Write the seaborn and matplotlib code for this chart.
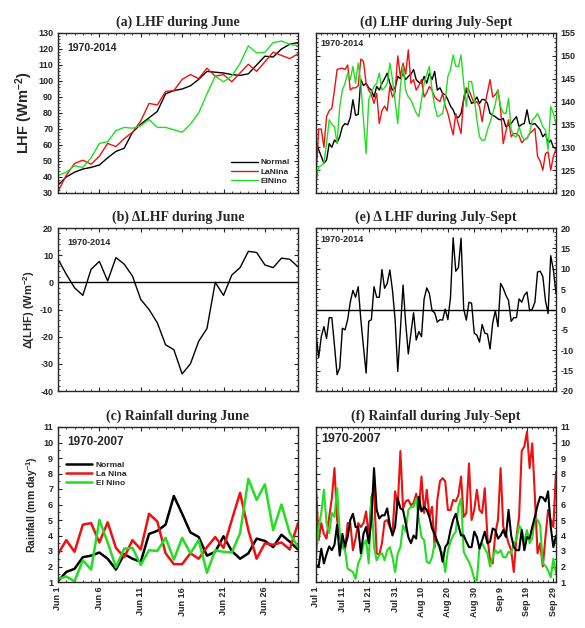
import numpy as np
import pandas as pd
import matplotlib
matplotlib.use("Agg")
import matplotlib.pyplot as plt
from matplotlib.ticker import MultipleLocator
import seaborn as sns

# ---------------- data ----------------
june_days = list(range(1, 31))
june_tick_pos = [1, 6, 11, 16, 21, 26]
june_tick_labels = ["Jun 1", "Jun 6", "Jun 11", "Jun 16", "Jun 21", "Jun 26"]

js_days = list(range(0, 92))
js_tick_pos = [0, 10, 20, 30, 40, 50, 60, 70, 80, 90]
js_tick_labels = ["Jul 1", "Jul 11", "Jul 21", "Jul 31", "Aug 10", "Aug 20",
                  "Aug 30", "Sep 9", "Sep 19", "Sep 29"]

# (a) LHF during June
lhf_june_normal = [35, 40, 43, 45, 46, 47.5, 52, 56, 58, 68, 73, 77, 81, 92, 94,
                   95, 97, 101, 106, 105.5, 105, 104, 103.5, 104.5, 110, 115.5,
                   115, 120, 123, 124]
lhf_june_lanina = [31, 41, 48.5, 50.5, 48, 53, 61, 59, 64, 68, 75, 86, 85, 93.5,
                   94, 101, 104, 101.5, 108, 103, 104, 99.5, 105, 110.5, 106, 112,
                   118, 116, 114, 117]
lhf_june_elnino = [41, 43, 47, 46, 52, 61, 62, 69, 71, 70.5, 72, 76, 71, 71, 69.5,
                   68, 73, 80, 92, 103, 99.5, 103, 111, 122, 117.5, 118, 124, 125,
                   123, 122]

# (b) Delta LHF during June
dlhf_june = [8.5, 3, -2, -4.8, 4.8, 7.7, 0.5, 9.1, 6.7, 2.3, -6.3, -10, -14.9, -23,
             -24.8, -33.7, -30, -21.7, -17, 0, -4.8, 2.7, 5.4, 11.4, 11, 6.4, 5.4,
             8.9, 8.5, 5.7]

# (c) Rainfall during June
rain_june_normal = [1.05, 1.65, 1.85, 2.6, 2.7, 2.9, 2.5, 1.8, 2.8, 2.5, 2.3, 4.1,
                    4.3, 4.7, 6.55, 5.4, 4.2, 3.9, 2.7, 2.95, 3.95, 3.0, 2.5, 2.85,
                    3.8, 3.65, 3.25, 4.05, 3.6, 3.1]
rain_june_lanina = [2.8, 3.7, 2.95, 4.7, 4.8, 3.55, 4.85, 3.2, 2.6, 3.7, 3.1, 5.4,
                    4.9, 2.85, 2.15, 2.15, 2.85, 2.5, 3.25, 3.9, 3.2, 5.0, 6.75,
                    4.35, 2.5, 3.5, 3.4, 3.55, 3.1, 4.8]
rain_june_elnino = [1.2, 1.35, 1.05, 2.4, 1.8, 5.0, 3.55, 1.95, 3.15, 3.2, 2.1,
                    3.05, 3.0, 3.85, 2.45, 3.85, 2.85, 3.7, 1.6, 3.05, 2.95, 2.9,
                    4.15, 7.65, 6.3, 7.3, 4.35, 6.0, 4.15, 3.25]

# (d) LHF during July-Sept
lhf_js_normal = [131.6, 129.5, 128.0, 126.5, 127.2, 130.8, 130.0, 131.6, 131.0, 132.3,
                 134.5, 135.2, 134.9, 136.5, 140.4, 137.0, 137.2, 144.8, 143.5, 144.0,
                 143.0, 142.5, 141.0, 143.3, 142.5, 144.0, 145.0, 146.2, 144.0, 142.5,
                 143.0, 145.5, 145.0, 146.2, 144.8, 145.5, 146.0, 147.0, 144.8, 144.2,
                 144.0, 145.5, 144.0, 146.2, 144.8, 146.6, 142.5, 143.0, 141.8, 141.5,
                 140.4, 139.0, 138.2, 136.7, 136.5, 137.4, 140.4, 142.5, 141.0, 139.6,
                 140.0, 141.0, 139.6, 140.5, 140.4, 139.6, 137.4, 137.0, 136.7, 136.2,
                 136.0, 136.3, 134.5, 134.8, 135.2, 136.0, 136.7, 134.5, 135.0, 135.2,
                 138.2, 135.2, 135.0, 135.2, 134.5, 133.8, 132.3, 133.0, 130.8, 131.6,
                 130.0, 129.7]
lhf_js_lanina = [123.5, 134.0, 134.0, 130.0, 136.7, 138.0, 138.5, 142.5, 147.0, 147.2,
                 147.3, 147.0, 148.0, 142.5, 143.0, 143.0, 143.5, 149.3, 148.8, 144.0,
                 142.5, 141.5, 139.6, 141.8, 135.2, 138.0, 139.0, 138.0, 143.3, 141.0,
                 142.0, 150.0, 145.5, 148.4, 146.0, 151.3, 144.0, 144.8, 142.5, 143.5,
                 144.8, 141.0, 142.0, 143.3, 142.5, 141.0, 140.4, 140.0, 141.8, 139.0,
                 137.4, 135.0, 132.7, 137.4, 135.0, 133.0, 141.0, 143.0, 142.5, 141.0,
                 139.6, 140.0, 138.9, 135.6, 139.2, 142.0, 144.8, 141.0, 141.5, 142.5,
                 138.2, 130.8, 133.5, 136.0, 132.3, 133.0, 133.0, 132.5, 131.0, 131.6,
                 132.0, 133.0, 133.5, 134.1, 128.0, 127.0, 125.0, 128.6, 129.0, 125.0,
                 128.0, 129.7]
lhf_js_elnino = [122.0, 125.7, 126.0, 126.5, 130.8, 136.0, 135.0, 134.5, 130.8, 138.9,
                 142.5, 144.0, 146.2, 144.8, 147.7, 144.0, 148.4, 144.0, 136.0, 128.6,
                 140.4, 142.0, 143.3, 144.0, 146.2, 142.5, 143.0, 144.0, 148.4, 144.8,
                 140.0, 135.2, 143.3, 147.7, 142.5, 141.0, 140.4, 138.9, 137.5, 136.7,
                 140.4, 144.0, 146.0, 147.7, 142.5, 139.0, 136.7, 137.0, 137.4, 140.4,
                 145.5, 147.0, 150.2, 147.7, 147.7, 150.2, 144.0, 138.9, 144.4, 144.4,
                 141.0, 136.0, 132.3, 131.5, 131.6, 133.8, 135.5, 137.4, 139.5, 142.5,
                 138.9, 137.5, 137.4, 140.7, 133.8, 132.5, 132.3, 134.5, 132.5, 131.6,
                 132.0, 133.0, 136.0, 136.5, 137.4, 136.0, 134.5, 133.8, 129.4, 138.9,
                 137.4, 135.2]

# (e) Delta LHF during July-Sept
dlhf_js = [-5.8, -11.8, -6.7, -4.2, -7.1, -2.0, -2.0, -8.8, -16.0, -14.3,
           -4.6, -5.0, -2.5, 1.8, 4.7, 3.0, 5.6, -2.5, -9.2, -15.6,
           -2.9, -2.5, 5.6, 3.0, 3.0, 9.8, 5.2, 6.4, 9.7, 4.7,
           -2.5, -15.2, -5.0, 6.0, -3.3, -10.9, -5.8, -0.8, -7.5, -5.4,
           -6.7, 2.6, 5.3, 3.9, -0.3, -0.8, -3.1, -2.5, -2.6, 0.1,
           -2.5, 3.0, 17.6, 9.4, 10.3, 17.5, 0.1, -2.6, 1.8, 1.5,
           -5.8, -6.3, -8.0, -3.7, -5.8, -6.0, -9.7, -3.3, -0.3, -4.2,
           6.4, 5.2, 3.5, 2.2, -2.9, -2.0, -2.0, 2.6, 1.8, 3.5,
           4.3, -0.3, 0.1, 1.8, 9.2, 9.4, 8.1, 2.2, -1.0, 13.2,
           9.8, 3.9]

# (f) Rainfall during July-Sept
rain_js_normal = [2.1, 2.0, 3.15, 2.2, 2.8, 3.3, 3.05, 3.4, 4.7, 2.7, 4.1,
                  3.3, 3.9, 5.0, 5.4, 4.55, 4.55, 2.85, 4.1, 4.55, 3.5,
                  5.0, 8.35, 5.65, 5.1, 5.3, 5.3, 5.75, 4.65, 4.0, 4.55,
                  6.4, 5.75, 5.65, 4.8, 3.9, 3.5, 4.0, 3.8, 6.5, 5.55,
                  5.85, 5.65, 5.2, 4.45, 4.1, 3.6, 3.25, 2.3, 3.25, 3.5,
                  4.35, 5.0, 5.4, 4.65, 4.0, 4.0, 3.6, 3.25, 3.25, 4.25,
                  3.9, 3.15, 3.7, 4.25, 3.5, 3.6, 4.45, 4.35, 3.8, 4.0,
                  4.35, 3.9, 5.65, 4.0, 3.25, 3.05, 3.05, 4.35, 3.05, 3.9,
                  3.8, 4.55, 5.2, 5.95, 6.5, 6.45, 6.2, 6.85, 4.55, 3.25,
                  4.0]
rain_js_lanina = [7.2, 3.7, 4.8, 4.1, 3.8, 5.2, 6.4, 8.35, 5.0,
                  3.9, 3.4, 3.05, 4.8, 4.8, 3.05, 3.8, 4.8, 4.55, 4.8,
                  5.55, 3.9, 6.4, 7.05, 2.85, 2.75, 3.5, 4.9, 5.0, 4.55,
                  4.15, 6.85, 5.95, 9.45, 5.75, 6.2, 6.3, 5.95, 6.1, 6.7,
                  5.65, 7.8, 5.45, 6.95, 5.2, 5.85, 3.25, 6.3, 7.5, 7.7,
                  7.5, 5.65, 5.65, 6.3, 6.2, 6.6, 7.8, 5.2, 5.45, 8.65,
                  5.0, 5.65, 6.95, 5.65, 5.45, 7.05, 3.9, 2.4, 2.2, 4.15,
                  5.0, 8.35, 4.55, 4.15, 3.5, 3.05, 1.65, 3.9, 5.2, 9.45,
                  9.75, 10.7, 8.35, 9.95, 6.5, 2.85, 3.5, 2.0, 3.9, 5.65,
                  5.0, 4.55, 8.1]
rain_js_elnino = [2.6, 4.55, 5.45, 6.95, 4.8, 4.15, 5.45, 5.2, 7.05, 4.15,
                  3.25, 3.05, 1.85, 1.75, 1.65, 1.2, 2.2, 2.6, 3.4, 3.7,
                  2.2, 6.5, 3.25, 2.4, 2.75, 2.85, 2.4, 3.05, 3.25, 2.6,
                  1.65, 2.85, 3.25, 4.65, 4.25, 5.65, 5.85, 5.85, 6.4, 5.0,
                  3.9, 3.7, 2.3, 2.2, 2.6, 3.5, 3.6, 3.05, 2.85, 1.65,
                  3.05, 3.6, 4.0, 4.25, 5.85, 6.4, 2.95, 2.6, 2.3, 1.85,
                  1.2, 1.1, 3.25, 3.5, 3.15, 2.85, 2.0, 2.6, 3.05, 2.85,
                  3.05, 2.6, 2.6, 2.95, 2.85, 3.5, 3.7, 4.65, 4.35, 3.6,
                  4.35, 3.5, 3.8, 5.2, 5.0, 4.65, 2.2, 2.05, 1.75, 1.3,
                  2.5, 1.55]

# ---------------- style ----------------
sns.set_style("ticks")
plt.rcParams["font.family"] = ["Liberation Sans", "DejaVu Sans"]
plt.rcParams["font.weight"] = "bold"
plt.rcParams["axes.linewidth"] = 1.0
plt.rcParams["axes.unicode_minus"] = False
plt.rcParams["mathtext.fontset"] = "custom"
plt.rcParams["mathtext.rm"] = "Liberation Sans:bold"
plt.rcParams["mathtext.bf"] = "Liberation Sans:bold"
plt.rcParams["mathtext.it"] = "Liberation Sans:bold"
plt.rcParams["mathtext.default"] = "bf"

C_N, C_L, C_E = "black", "#ee1111", "#22dd22"
TITLE_FONT = dict(family=["Liberation Serif", "DejaVu Serif"], weight="bold", size=10)

fig = plt.figure(figsize=(5.85, 6.28), dpi=100)
W = 240 / 585
left_x, right_x = 58 / 585, 316 / 585
rows = [(33, 193), (228, 391), (427, 582)]

def rect(x0, r):
    t, b = rows[r]
    return [x0, 1 - b / 628, W, (b - t) / 628]

axa = fig.add_axes(rect(left_x, 0))
axb = fig.add_axes(rect(left_x, 1))
axc = fig.add_axes(rect(left_x, 2))
axd = fig.add_axes(rect(right_x, 0))
axe = fig.add_axes(rect(right_x, 1))
axf = fig.add_axes(rect(right_x, 2))

def style(ax, right=False):
    ax.tick_params(which="both", direction="in", top=True, right=True, left=True,
                   bottom=True, labelsize=6.5)
    ax.tick_params(which="major", length=3, width=0.8)
    ax.tick_params(which="minor", length=1.6, width=0.6)
    if right:
        ax.tick_params(labelleft=False, labelright=True)
    for lab in ax.get_yticklabels() + ax.get_xticklabels():
        lab.set_fontweight("bold")

# (a)
sns.lineplot(x=june_days, y=lhf_june_normal, color=C_N, lw=1.0, ax=axa, label="Normal")
sns.lineplot(x=june_days, y=lhf_june_lanina, color=C_L, lw=1.0, ax=axa, label="LaNina")
sns.lineplot(x=june_days, y=lhf_june_elnino, color=C_E, lw=1.0, ax=axa, label="ElNino")
axa.set_ylim(30, 130)
axa.yaxis.set_major_locator(MultipleLocator(10))
axa.yaxis.set_minor_locator(MultipleLocator(2))
axa.set_ylabel("LHF (Wm$^{-2}$)", fontsize=10.5, fontweight="bold", labelpad=2)
axa.legend(loc="lower right", frameon=False, fontsize=6, handlelength=3.2,
           handletextpad=0.3, labelspacing=0.15, borderaxespad=0.6)
axa.text(0.04, 0.94, "1970-2014", transform=axa.transAxes, fontsize=7.5,
         fontweight="bold", va="top", ha="left")

# (b)
sns.lineplot(x=june_days, y=dlhf_june, color=C_N, lw=1.0, ax=axb)
axb.axhline(0, color="black", lw=1.0)
axb.set_ylim(-40, 20)
axb.yaxis.set_major_locator(MultipleLocator(10))
axb.yaxis.set_minor_locator(MultipleLocator(2))
axb.set_ylabel("\u0394(LHF) (Wm$^{-2}$)", fontsize=8, fontweight="bold", labelpad=2)
axb.text(0.04, 0.94, "1970-2014", transform=axb.transAxes, fontsize=6.5,
         fontweight="bold", va="top", ha="left")

# (c)
sns.lineplot(x=june_days, y=rain_june_normal, color=C_N, lw=1.8, ax=axc, label="Normal")
sns.lineplot(x=june_days, y=rain_june_lanina, color=C_L, lw=1.8, ax=axc, label="La Nina")
sns.lineplot(x=june_days, y=rain_june_elnino, color=C_E, lw=1.8, ax=axc, label="El Nino")
axc.set_ylim(1, 11)
axc.yaxis.set_major_locator(MultipleLocator(1))
axc.yaxis.set_minor_locator(MultipleLocator(0.5))
axc.set_ylabel("Rainfall (mm day$^{-1}$)", fontsize=7.5, fontweight="bold", labelpad=2)
axc.legend(loc="upper left", bbox_to_anchor=(0.0, 0.83), frameon=False, fontsize=6,
           handlelength=3.2, handletextpad=0.4, labelspacing=0.15)
axc.text(0.04, 0.94, "1970-2007", transform=axc.transAxes, fontsize=8.5,
         fontweight="bold", va="top", ha="left")

for ax in (axa, axb, axc):
    ax.set_xlim(1, 30)
    ax.set_xticks(june_tick_pos)
    ax.xaxis.set_minor_locator(MultipleLocator(1))
    ax.set_xlabel("")
axa.set_xticklabels([])
axb.set_xticklabels([])
axc.set_xticklabels(june_tick_labels, rotation=90, fontsize=7, fontweight="bold")

# (d)
sns.lineplot(x=js_days, y=lhf_js_normal, color=C_N, lw=1.0, ax=axd)
sns.lineplot(x=js_days, y=lhf_js_lanina, color=C_L, lw=1.0, ax=axd)
sns.lineplot(x=js_days, y=lhf_js_elnino, color=C_E, lw=1.0, ax=axd)
axd.set_ylim(120, 155)
axd.yaxis.set_major_locator(MultipleLocator(5))
axd.yaxis.set_minor_locator(MultipleLocator(1))
axd.text(0.02, 0.96, "1970-2014", transform=axd.transAxes, fontsize=6.5,
         fontweight="bold", va="top", ha="left")

# (e)
sns.lineplot(x=js_days, y=dlhf_js, color=C_N, lw=1.0, ax=axe)
axe.axhline(0, color="black", lw=1.0)
axe.set_ylim(-20, 20)
axe.yaxis.set_major_locator(MultipleLocator(5))
axe.yaxis.set_minor_locator(MultipleLocator(1))
axe.text(0.02, 0.96, "1970-2014", transform=axe.transAxes, fontsize=6.5,
         fontweight="bold", va="top", ha="left")

# (f)
sns.lineplot(x=js_days, y=rain_js_lanina, color=C_L, lw=1.5, ax=axf)
sns.lineplot(x=js_days, y=rain_js_elnino, color=C_E, lw=1.5, ax=axf)
sns.lineplot(x=js_days, y=rain_js_normal, color=C_N, lw=1.5, ax=axf)
axf.set_ylim(1, 11)
axf.yaxis.set_major_locator(MultipleLocator(1))
axf.yaxis.set_minor_locator(MultipleLocator(0.5))
axf.text(0.02, 0.96, "1970-2007", transform=axf.transAxes, fontsize=9,
         fontweight="bold", va="top", ha="left")

for ax in (axd, axe, axf):
    ax.set_xlim(0, 91)
    ax.set_xticks(js_tick_pos)
    ax.xaxis.set_minor_locator(MultipleLocator(2))
    ax.set_xlabel("")
    ax.set_ylabel("")
axd.set_xticklabels([])
axe.set_xticklabels([])
axf.set_xticklabels(js_tick_labels, rotation=90, fontsize=7, fontweight="bold")

for ax in (axa, axb, axc):
    style(ax)
for ax in (axd, axe, axf):
    style(ax, right=True)

titles = [(axa, "(a) LHF during June"), (axb, "(b) \u0394LHF during June"),
          (axc, "(c) Rainfall during June"), (axd, "(d) LHF during July-Sept"),
          (axe, "(e) \u0394 LHF during July-Sept"), (axf, "(f) Rainfall during July-Sept")]
for ax, t in titles:
    ax.set_title(t, fontdict=TITLE_FONT, pad=5)

fig.savefig("out.png", dpi=100)
